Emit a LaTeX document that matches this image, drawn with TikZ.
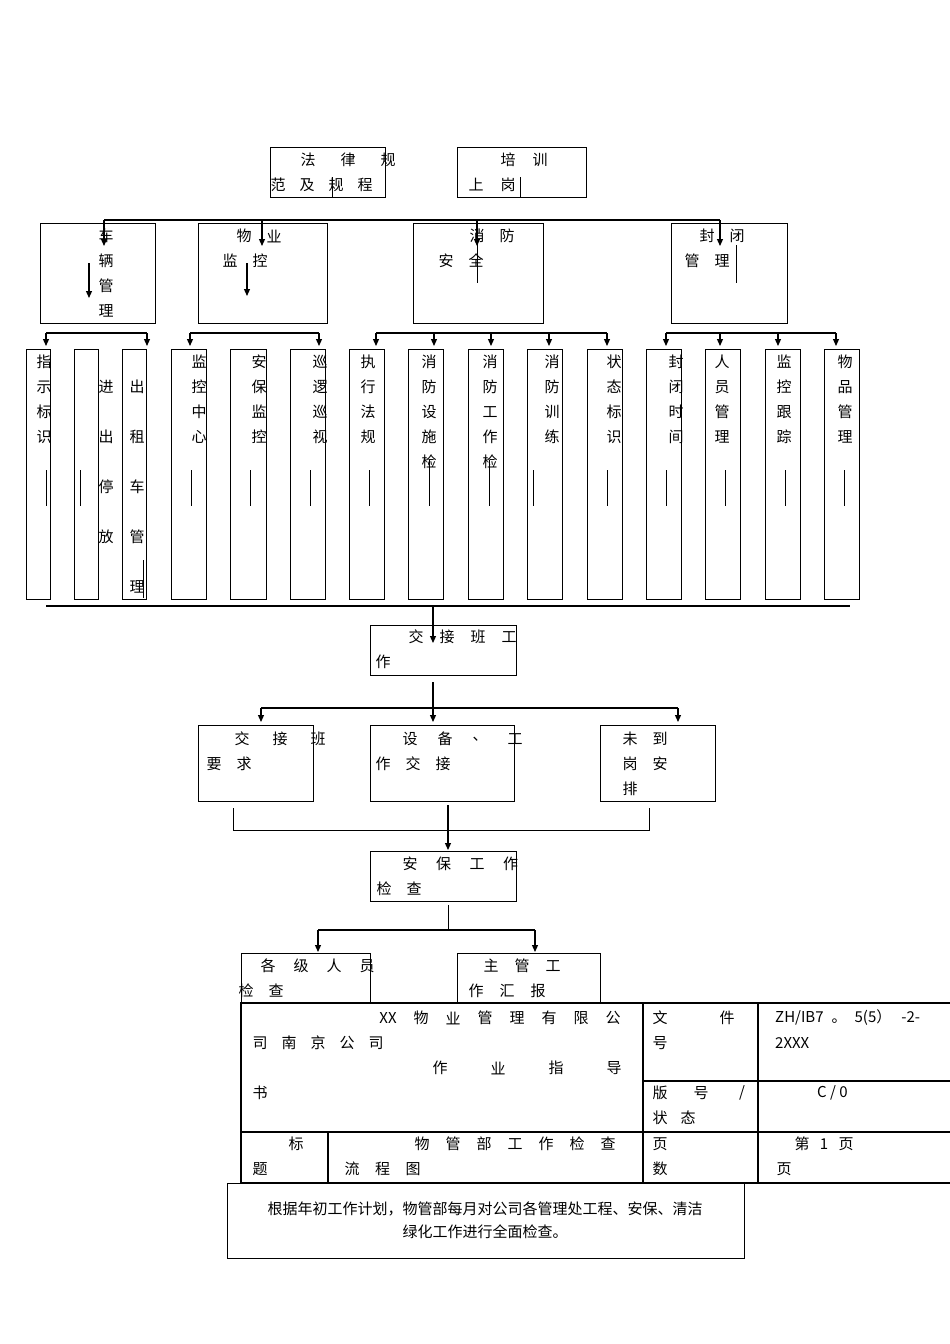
\documentclass[tikz,border=0pt]{standalone}
\usepackage{fontspec}
\setmainfont{Noto Sans CJK SC}
\newfontfamily\cjk{Noto Sans CJK SC}
\usetikzlibrary{arrows.meta}
\tikzset{x=1pt,y=-1pt,
 bx/.style={draw,line width=0.8pt},
 ln/.style={line width=1.2pt},
 ar/.style={line width=1.2pt,-{Triangle[length=7pt,width=6pt]}},
 txt/.style={inner sep=0pt,font=\fontsize{15}{15}\selectfont}}
\newcommand\crow[4]{\foreach \c [count=\i from 0] in {#4} \node[txt] at ({#1+\i*#2},#3) {\c};}
\newcommand\ccol[4]{\foreach \c [count=\i from 0] in {#4} \node[txt] at (#1,{#2+\i*#3}) {\c};}
\begin{document}
\begin{tikzpicture}
\useasboundingbox (0,0) rectangle (950,1344);
% top boxes
\draw[bx] (270,147) rectangle (385,197); \node (fl) at (327,172) {};
\draw[bx] (457,147) rectangle (586,197); \node (px) at (521,172) {};
\crow{308}{40}{160}{法,律,规}\crow{278}{29}{185}{范,及,规,程}
\crow{508}{32}{160}{培,训}\crow{476}{32}{185}{上,岗}
\draw (332,177)--(332,197); \draw (520,177)--(520,197);
% level 1
\coordinate (b1) at (104,220); \coordinate (b4) at (720,220);
\draw[ln] (b1)--(b4);
\foreach \x in {104,262,477,720} \draw[ar] (\x,220)--(\x,246);
\draw[bx] (40,223) rectangle (155,323);
\draw[bx] (198,223) rectangle (327,323);
\draw[bx] (413,223) rectangle (543,323);
\draw[bx] (671,223) rectangle (787,323);
\ccol{106}{236}{25}{车,辆,管,理}
\crow{244}{30}{236}{物,业}\crow{230}{30}{261}{监,控}
\crow{477}{30}{236}{消,防}\crow{446}{30}{261}{安,全}
\crow{707}{30}{236}{封,闭}\crow{692}{30}{261}{管,理}
\draw[ar] (89,263)--(89,298); \draw[ar] (247,263)--(247,296);
\draw (477,240)--(477,283); \draw (736,245)--(736,283);
% level 2 buses
\draw[ln] (46,333)--(147,333); \foreach \x in {46,147} \draw[ar] (\x,333)--(\x,346);
\draw[ln] (190,333)--(319,333); \foreach \x in {190,319} \draw[ar] (\x,333)--(\x,346);
\draw[ln] (376,333)--(607,333); \foreach \x in {376,434,491,549,607} \draw[ar] (\x,333)--(\x,346);
\draw[ln] (666,333)--(836,333); \foreach \x in {666,720,778,836} \draw[ar] (\x,333)--(\x,346);
\foreach \a/\b in {26/50,74/98,122/146,171/206,230/266,290/325,349/384,408/443,468/503,527/562,587/622,646/681,705/740,765/800,824/859}
  \draw[bx] (\a,349) rectangle (\b,599);
\ccol{44}{362}{25}{指,示,标,识}
\ccol{106}{387}{50}{进,出,停,放}
\ccol{137}{387}{50}{出,租,车,管,理}
\ccol{199}{362}{25}{监,控,中,心}
\ccol{259}{362}{25}{安,保,监,控}
\ccol{320}{362}{25}{巡,逻,巡,视}
\ccol{368}{362}{25}{执,行,法,规}
\ccol{429}{362}{25}{消,防,设,施,检}
\ccol{490}{362}{25}{消,防,工,作,检}
\ccol{552}{362}{25}{消,防,训,练}
\ccol{614}{362}{25}{状,态,标,识}
\ccol{676}{362}{25}{封,闭,时,间}
\ccol{722}{362}{25}{人,员,管,理}
\ccol{784}{362}{25}{监,控,跟,踪}
\ccol{845}{362}{25}{物,品,管,理}
\foreach \x in {46,80,191,250,310,369,533,607,666,725,785,844} \draw (\x,470)--(\x,506);
\draw (429,460)--(429,506); \draw (489,460)--(489,506); \draw (143,560)--(143,598);
% merge
\draw[ln] (46,606)--(850,606);
\draw[bx] (370,625) rectangle (516,675);
\crow{416}{31}{637}{交,接,班,工}\node[txt] at (383,662) {作};
\draw[ar] (433,606)--(433,643);
\draw[ln] (433,682)--(433,708);
\draw[ln] (261,708)--(678,708);
\foreach \x in {261,433,678} \draw[ar] (\x,708)--(\x,722);
\draw[bx] (198,725) rectangle (313,801);
\draw[bx] (370,725) rectangle (514,801);
\draw[bx] (600,725) rectangle (715,801);
\crow{242}{38}{739}{交,接,班}\crow{214}{30}{764}{要,求}
\crow{410}{35}{739}{设,备,、,工}\crow{383}{30}{764}{作,交,接}
\crow{630}{30}{739}{未,到}\crow{630}{30}{764}{岗,安}\node[txt] at (630,789) {排};
\draw (233,808)--(233,830)--(649,830)--(649,808);
\draw[ar] (448,805)--(448,850);
\draw[bx] (370,851) rectangle (516,901);
\crow{410}{33.5}{864}{安,保,工,作}\crow{384}{30}{889}{检,查}
\draw (448,905)--(448,930);
\draw[ln] (318,930)--(535,930);
\foreach \x in {318,535} \draw[ar] (\x,930)--(\x,952);
\draw[bx] (241,953) rectangle (370,1003);
\draw[bx] (457,953) rectangle (600,1003);
\crow{268}{33}{966}{各,级,人,员}\crow{246}{30}{991}{检,查}
\crow{491}{31}{966}{主,管,工}\crow{476}{31}{991}{作,汇,报}
% table
\draw[line width=1.2pt] (241,1003) rectangle (951,1183);
\draw[line width=1.2pt] (643,1003)--(643,1183) (758,1003)--(758,1183)
  (643,1081)--(951,1081) (241,1132)--(951,1132) (328,1132)--(328,1183);
\node[txt,anchor=center] at (388,1018) {XX};
\crow{421}{32}{1018}{物,业,管,理,有,限,公}
\crow{260}{29}{1043}{司,南,京,公,司}
\crow{440}{58}{1068}{作,业,指,导}\node[txt] at (260,1093) {书};
\crow{660}{67}{1018}{文,件}\node[txt] at (660,1043) {号};
\node[txt,anchor=west] at (775,1018) {ZH/IB7\hspace{8pt}。\hspace{8pt}5(5）\hspace{10pt}-2-};
\node[txt,anchor=west] at (775,1043) {2XXX};
\crow{660}{41}{1093}{版,号,/}\crow{660}{28}{1118}{状,态}
\node[txt,anchor=west] at (817,1093) {C / 0};
\node[txt] at (296,1144) {标}; \node[txt] at (260,1169) {题};
\crow{422}{31}{1144}{物,管,部,工,作,检,查}\crow{352}{30.5}{1169}{流,程,图}
\node[txt] at (660,1144) {页}; \node[txt] at (660,1169) {数};
\crow{802}{22}{1144}{第,1,页}\node[txt] at (784,1169) {页};
% note box
\draw[bx] (227,1183) rectangle (744,1258);
\node[txt,align=center] (note) at (485,1220) {根据年初工作计划，物管部每月对公司各管理处工程、安保、清洁\\[8pt]绿化工作进行全面检查。};
\end{tikzpicture}
\end{document}
